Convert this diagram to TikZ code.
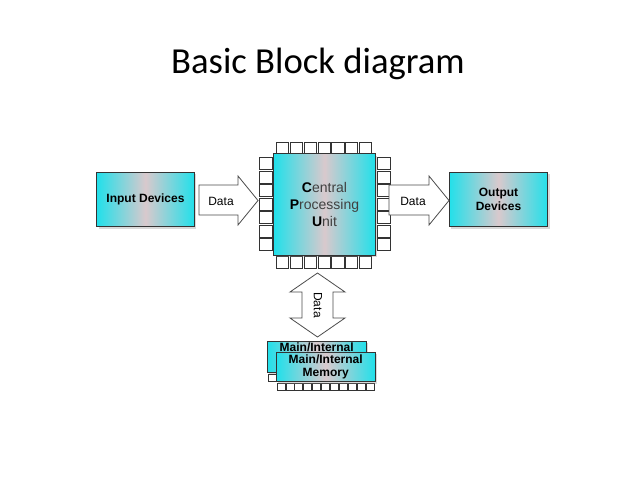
\documentclass[tikz,border=0pt]{standalone}
\usepackage{fontspec}
\setmainfont{Carlito}
\newfontfamily\arialf{Liberation Sans}
\usetikzlibrary{shapes.arrows,shadows}
\definecolor{cy}{HTML}{22E0EA}
\definecolor{mid}{HTML}{D9C9CD}
\begin{document}
\begin{tikzpicture}[x=0.75pt,y=-0.75pt,
  box/.style={draw=black!80,line width=0.6pt,left color=cy,right color=cy,middle color=mid,font=\arialf\bfseries\fontsize{9}{10}\selectfont,align=center,inner sep=0pt,drop shadow={opacity=0.3,shadow xshift=1.5pt,shadow yshift=-1.5pt}},
  pin/.style={draw=black!80,fill=white,line width=0.5pt},
  arr/.style={draw=black!70,fill=white,line width=0.6pt,font=\arialf\fontsize{9}{10}\selectfont,inner sep=0pt}]
\useasboundingbox (0,0) rectangle (638,478);
\node (title) at (318,64) {\fontsize{27.5}{32}\selectfont Basic Block diagram};
% input / output
\node[box,minimum width=73pt,minimum height=41pt] (in) at (145.5,199.5) {Input Devices};
\node[box,minimum width=74pt,minimum height=41pt] (out) at (498.5,199.5) {Output\\Devices};
% CPU pins
\foreach \i in {0,...,6}{
  \draw[pin] (276.5+\i*13.8,142) rectangle ++(12.3,11.5);
  \draw[pin] (276.5+\i*13.8,256.5) rectangle ++(12.3,11.5);
  \draw[pin] (259.5,157.5+\i*13.5) rectangle ++(12.5,12.3);
  \draw[pin] (377.5,157.5+\i*13.5) rectangle ++(12.5,12.3);
}
\node[box,minimum width=76pt,minimum height=76pt,font=\arialf\fontsize{10.5}{12.5}\selectfont] (cpu) at (324.5,204.5) {\textbf{C}\textcolor{black!75}{entral}\\\textbf{P}\textcolor{black!75}{rocessing}\\\textbf{U}\textcolor{black!75}{nit}};
% arrows
\draw[arr] (199,185) -- (238,185) -- (238,176) -- (258,200.5) -- (238,225) -- (238,215) -- (199,215) -- cycle;
\node[arr,draw=none,fill=none] (d1) at (221,201) {Data};
\draw[arr] (389,185) -- (429,185) -- (429,176) -- (449,200.5) -- (429,225) -- (429,215) -- (389,215) -- cycle;
\node[arr,draw=none,fill=none] (d2) at (413,201) {Data};
\draw[arr] (317.5,273) -- (345,292) -- (333,292) -- (333,318) -- (345,318) -- (317.5,337) -- (290,318) -- (302,318) -- (302,292) -- (290,292) -- cycle;
\node[arr,draw=none,fill=none,rotate=-90] (d3) at (318,305) {Data};
% memory
\foreach \i in {0,...,3}{ \draw[pin] (268+\i*9,374) rectangle ++(8,7); }
\node[box,minimum width=74pt,minimum height=23pt,anchor=north west,text depth=14pt] (m1) at (267,341) {Main/Internal};
\foreach \i in {0,...,10}{ \draw[pin] (277+\i*8.9,383) rectangle ++(8,7.5); }
\node[box,minimum width=74pt,minimum height=22pt,anchor=north west] (m2) at (276,352) {Main/Internal\\Memory};
\end{tikzpicture}
\end{document}
